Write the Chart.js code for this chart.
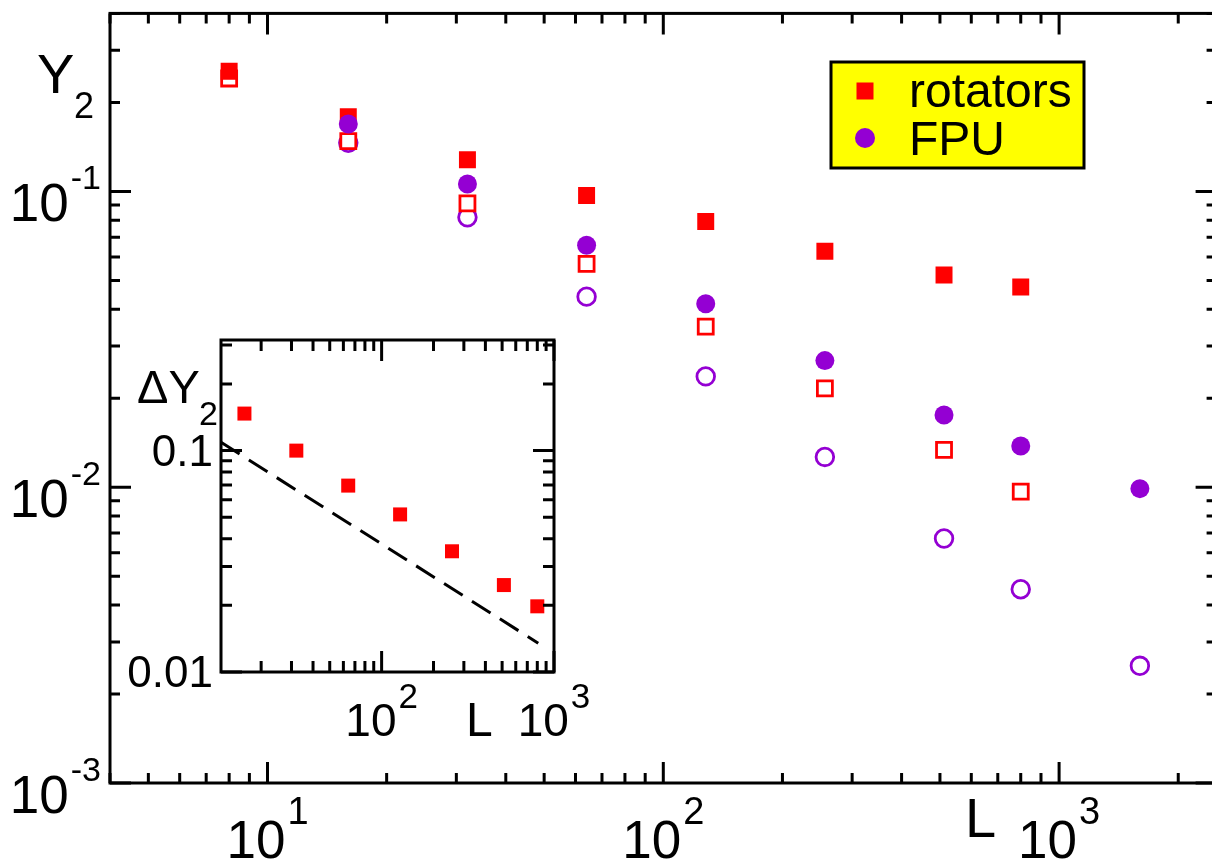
<!DOCTYPE html>
<html>
<head>
<meta charset="utf-8">
<script src="https://cdn.jsdelivr.net/npm/chart.js@4.4.1/dist/chart.umd.min.js"></script>
<style>
  html, body { margin: 0; padding: 0; background: #fff; overflow: hidden; }
  #wrap { position: relative; width: 1212px; height: 866px; overflow: hidden; }
  #mainChart { position: absolute; left: 0; top: 0; }
  #insetChart { position: absolute; left: 100px; top: 330px; }
</style>
</head>
<body>
<div id="wrap">
  <canvas id="mainChart" width="1230" height="866"></canvas>
  <canvas id="insetChart" width="510" height="420"></canvas>
</div>
<script>
// valores
const sizesL = [8, 16, 32, 64, 128, 256, 512, 800, 1600]
const rotatorsFilled = [0.255, 0.179, 0.128, 0.0969, 0.0792, 0.0628, 0.0522, 0.0475, null]
const rotatorsOpen = [0.241, 0.148, 0.0911, 0.0569, 0.0349, 0.0216, 0.01337, 0.00966, null]
const fpuFilled = [null, 0.169, 0.106, 0.0658, 0.0417, 0.0268, 0.01754, 0.01378, 0.00989]
const fpuOpen = [null, 0.146, 0.0818, 0.0441, 0.0237, 0.01266, 0.00671, 0.00452, 0.00249]

// inset: Delta Y2 (rotators)
const insetL = [16, 32, 64, 128, 256, 512, 800]
const deltaY2 = [0.147, 0.100, 0.0695, 0.0515, 0.0351, 0.0247, 0.0198]
const guideL = [11.7, 810]
const guideY = [0.109, 0.0135]

// rótulos dos eixos
const mainXTickExps = [1, 2, 3]
const mainYTickExps = [-1, -2, -3]
const insetXTickExps = [2, 3]
const insetYTickValues = [0.1, 0.01]
const insetYTickLabels = ["0.1", "0.01"]
const legendLabels = ["rotators", "FPU"]

const FONT = '"Liberation Sans", Arial, Helvetica, sans-serif'
const RED = "#ff0000"
const PURPLE = "#9400d3"

function toPoints(xs, ys) {
  return xs.map((x, i) => ({ x: x, y: ys[i] })).filter((p) => p.y != null)
}

function logTicks(min, max) {
  const out = []
  for (let e = Math.floor(Math.log10(min)); e <= Math.ceil(Math.log10(max)); e++) {
    for (let m = 1; m <= 9; m++) {
      const v = m * Math.pow(10, e)
      if (v >= min * 0.999 && v <= max * 1.001) out.push({ v: v, major: m === 1 })
    }
  }
  return out
}

function drawPow(ctx, x, baseY, supY, exp, bigSize, supSize, align) {
  ctx.font = bigSize + "px " + FONT
  const w1 = ctx.measureText("10").width
  ctx.font = supSize + "px " + FONT
  const w2 = ctx.measureText(exp).width
  const gap = 2
  let start = x - (w1 + gap + w2) / 2
  if (align === "right") start = x - (w1 + gap + w2)
  ctx.textAlign = "left"
  ctx.textBaseline = "alphabetic"
  ctx.font = bigSize + "px " + FONT
  ctx.fillText("10", start, baseY)
  ctx.font = supSize + "px " + FONT
  ctx.fillText(exp, start + w1 + gap, supY)
}

function frameAxes(major, minor, drawLabels) {
  return {
    id: "frameAxes",
    afterDraw(chart) {
      const ctx = chart.ctx
      const a = chart.chartArea
      const x = chart.scales.x
      const y = chart.scales.y
      ctx.save()
      ctx.strokeStyle = "#000"
      ctx.lineWidth = 3
      ctx.beginPath()
      logTicks(x.min, x.max).forEach((t) => {
        const px = x.getPixelForValue(t.v)
        const len = t.major ? major : minor
        ctx.moveTo(px, a.bottom)
        ctx.lineTo(px, a.bottom - len)
        ctx.moveTo(px, a.top)
        ctx.lineTo(px, a.top + len)
      })
      logTicks(y.min, y.max).forEach((t) => {
        const py = y.getPixelForValue(t.v)
        const len = t.major ? major : minor
        ctx.moveTo(a.left, py)
        ctx.lineTo(a.left + len, py)
        ctx.moveTo(a.right, py)
        ctx.lineTo(a.right - len, py)
      })
      ctx.stroke()
      ctx.lineJoin = "miter"
      ctx.strokeRect(a.left, a.top, a.right - a.left, a.bottom - a.top)
      ctx.fillStyle = "#000"
      drawLabels(chart, ctx)
      ctx.restore()
    },
  }
}

// Gráfico principal
const mainCtx = document.getElementById("mainChart")
new Chart(mainCtx, {
  type: "scatter",
  data: {
    datasets: [
      {
        label: "FPU",
        data: toPoints(sizesL, fpuFilled),
        pointStyle: "circle",
        pointRadius: 9.5,
        pointBorderWidth: 0,
        backgroundColor: PURPLE,
        borderColor: PURPLE,
      },
      {
        label: "rotators",
        data: toPoints(sizesL, rotatorsFilled),
        pointStyle: "rect",
        pointRadius: 12,
        pointBorderWidth: 0,
        backgroundColor: RED,
        borderColor: RED,
      },
      {
        label: "rotators open",
        data: toPoints(sizesL, rotatorsOpen),
        pointStyle: "rect",
        pointRadius: 10.6,
        pointBorderWidth: 2.8,
        backgroundColor: "#fff",
        borderColor: RED,
      },
      {
        label: "FPU open",
        data: toPoints(sizesL, fpuOpen),
        pointStyle: "circle",
        pointRadius: 8.8,
        pointBorderWidth: 2.8,
        backgroundColor: "#fff",
        borderColor: PURPLE,
      },
    ],
  },
  options: {
    responsive: false,
    animation: false,
    events: [],
    layout: { padding: { left: 110, top: 7, right: 9, bottom: 83 } },
    plugins: { legend: { display: false }, tooltip: { enabled: false } },
    scales: {
      x: { type: "logarithmic", min: 4, max: 2500, display: false },
      y: { type: "logarithmic", min: 0.001, max: 0.4, display: false },
    },
  },
  plugins: [
    frameAxes(21, 10, (chart, ctx) => {
      const x = chart.scales.x
      const y = chart.scales.y
      mainXTickExps.forEach((e) => {
        drawPow(ctx, x.getPixelForValue(Math.pow(10, e)), 858, 824, String(e), 53, 38, "center")
      })
      mainYTickExps.forEach((e) => {
        const py = y.getPixelForValue(Math.pow(10, e))
        drawPow(ctx, 101, py + 30, py - 2, String(e), 53, 34, "right")
      })
      ctx.textAlign = "left"
      ctx.font = "56px " + FONT
      ctx.fillText("Y", 37, 93)
      ctx.fillText("L", 965, 837)
      ctx.font = "36px " + FONT
      ctx.fillText("2", 74, 118)

      // legenda
      ctx.fillStyle = "#ffff00"
      ctx.fillRect(831, 62, 253, 106)
      ctx.lineWidth = 3
      ctx.strokeStyle = "#000"
      ctx.strokeRect(831, 62, 253, 106)
      ctx.fillStyle = RED
      ctx.fillRect(865 - 8.5, 91 - 8.5, 17, 17)
      ctx.fillStyle = PURPLE
      ctx.beginPath()
      ctx.arc(865, 138, 10, 0, Math.PI * 2)
      ctx.fill()
      ctx.fillStyle = "#000"
      ctx.font = "48px " + FONT
      ctx.fillText(legendLabels[0], 909, 107)
      ctx.fillText(legendLabels[1], 909, 155)
    }),
  ],
})

// Inset
const insetCtx = document.getElementById("insetChart")
new Chart(insetCtx, {
  type: "scatter",
  data: {
    datasets: [
      {
        label: "Delta Y2",
        data: toPoints(insetL, deltaY2),
        pointStyle: "rect",
        pointRadius: 9.9,
        pointBorderWidth: 0,
        backgroundColor: RED,
        borderColor: RED,
      },
      {
        type: "line",
        label: "guide",
        data: toPoints(guideL, guideY),
        showLine: true,
        pointRadius: 0,
        borderColor: "#000",
        borderWidth: 3,
        borderDash: [22, 11],
        fill: false,
      },
    ],
  },
  options: {
    responsive: false,
    animation: false,
    events: [],
    layout: { padding: { left: 121, top: 10, right: 56, bottom: 78 } },
    plugins: { legend: { display: false }, tooltip: { enabled: false } },
    scales: {
      x: { type: "logarithmic", min: 11.7, max: 1000, display: false },
      y: { type: "logarithmic", min: 0.01, max: 0.316, display: false },
    },
  },
  plugins: [
    frameAxes(21, 11, (chart, ctx) => {
      const x = chart.scales.x
      const y = chart.scales.y
      insetXTickExps.forEach((e) => {
        drawPow(ctx, x.getPixelForValue(Math.pow(10, e)), 406, 378, String(e), 46, 35, "center")
      })
      ctx.textAlign = "right"
      ctx.font = "44px " + FONT
      insetYTickValues.forEach((v, i) => {
        ctx.fillText(insetYTickLabels[i], 113, y.getPixelForValue(v) + 15)
      })
      ctx.textAlign = "left"
      ctx.font = "48px " + FONT
      ctx.fillText("L", 366, 406)
      ctx.font = "47px " + FONT
      ctx.fillText("\u0394Y", 37, 73)
      ctx.font = "34px " + FONT
      ctx.fillText("2", 99, 95)
    }),
  ],
})
</script>
</body>
</html>
